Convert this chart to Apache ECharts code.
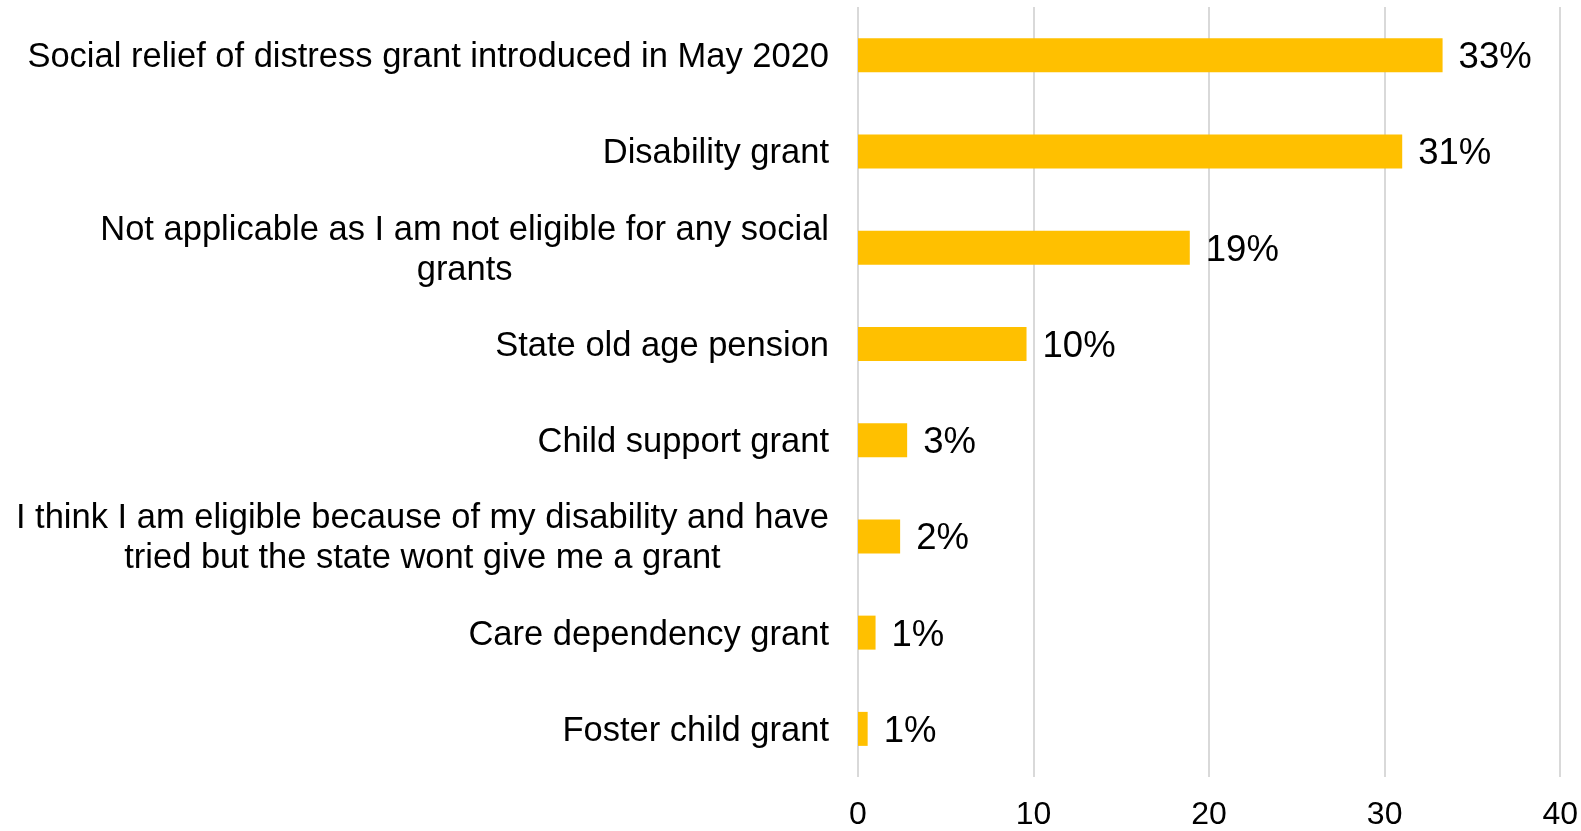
<!DOCTYPE html>
<html>
<head>
<meta charset="utf-8">
<script src="https://cdn.jsdelivr.net/npm/echarts@6/dist/echarts.min.js"></script>
<style>
  html, body { margin: 0; padding: 0; background: #ffffff; }
  #chart { width: 1581px; height: 831px; }
</style>
</head>
<body>
<div id="chart"></div>
<script>
// Types of social grant received (share of respondents, %)
const categories = [
  'Social relief of distress grant introduced in May 2020',
  'Disability grant',
  'Not applicable as I am not eligible for any social\ngrants',
  'State old age pension',
  'Child support grant',
  'I think I am eligible because of my disability and have\ntried but the state wont give me a grant',
  'Care dependency grant',
  'Foster child grant'
];
const shares = [33.3, 31.0, 18.9, 9.6, 2.8, 2.4, 1.0, 0.55];
const xTicks = [0, 10, 20, 30, 40];

const FONT = "'Liberation Sans', Arial, sans-serif";

const chart = echarts.init(document.getElementById('chart'), null, { renderer: 'canvas' });

chart.setOption({
  animation: false,
  backgroundColor: '#ffffff',
  grid: { left: 858, right: 19, top: 7, bottom: 53, containLabel: false },
  xAxis: {
    type: 'value',
    min: xTicks[0],
    max: xTicks[xTicks.length - 1],
    interval: xTicks[1] - xTicks[0],
    axisLine: { show: false },
    axisTick: { show: false },
    splitLine: { show: true, lineStyle: { color: '#d9d9d9', width: 2 } },
    axisLabel: { color: '#000000', fontFamily: FONT, fontSize: 32, margin: 22 }
  },
  yAxis: {
    type: 'category',
    inverse: true,
    data: categories,
    axisLine: { show: false },
    axisTick: { show: false },
    axisLabel: {
      color: '#000000',
      fontFamily: FONT,
      fontSize: 34.5,
      margin: 29,
      align: 'right',
      lineHeight: 40,
      formatter: function (v) {
        return v.split('\n').map(function (s) { return '{c|' + s + '}'; }).join('\n');
      },
      rich: {
        c: { align: 'center', fontFamily: FONT, fontSize: 34.5, lineHeight: 40, color: '#000000', padding: [5, 0, 0, 0] }
      }
    }
  },
  series: [{
    type: 'bar',
    data: shares,
    barWidth: 34,
    itemStyle: { color: '#FFC000' },
    label: {
      show: true,
      position: 'right',
      distance: 16,
      color: '#000000',
      fontFamily: FONT,
      fontSize: 36.5,
      offset: [0, 3],
      formatter: function (p) { return Math.round(p.value) + '%'; }
    }
  }]
});
</script>
</body>
</html>
